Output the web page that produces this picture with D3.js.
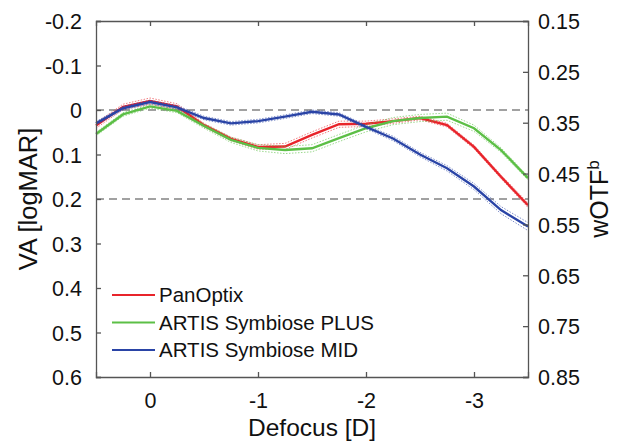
<!DOCTYPE html>
<html>
<head>
<meta charset="utf-8">
<script src="https://cdn.jsdelivr.net/npm/d3@7"></script>
<style>
    body { margin: 0; background: #fff; }
    text { font-family: "Liberation Sans", Arial, sans-serif; fill: #111; }
</style>
</head>
<body>
<div id="chart"></div>
<script>
// defocus steps (D)
var defocus = [0.5, 0.25, 0, -0.25, -0.5, -0.75, -1, -1.25, -1.5, -1.75, -2, -2.25, -2.5, -2.75, -3, -3.25, -3.5];

// VA values (logMAR)
var panOptix = [0.035, -0.007, -0.020, -0.008, 0.034, 0.065, 0.083, 0.082, 0.056, 0.032, 0.031, 0.025, 0.018, 0.034, 0.083, 0.150, 0.214];
var artisPlus = [0.054, 0.010, -0.008, 0.002, 0.036, 0.067, 0.085, 0.090, 0.086, 0.063, 0.041, 0.025, 0.018, 0.015, 0.041, 0.090, 0.153];
var artisMid = [0.030, -0.004, -0.018, -0.006, 0.018, 0.030, 0.025, 0.015, 0.004, 0.010, 0.038, 0.064, 0.100, 0.131, 0.172, 0.225, 0.262];

// half width of the dotted bands
var panOptixCI = [0.006, 0.006, 0.007, 0.006, 0.004, 0.004, 0.005, 0.007, 0.007, 0.007, 0.006, 0.005, 0.004, 0.004, 0.004, 0.004, 0.005];
var artisPlusCI = [0.004, 0.004, 0.004, 0.004, 0.005, 0.006, 0.007, 0.008, 0.008, 0.008, 0.008, 0.008, 0.008, 0.008, 0.007, 0.005, 0.004];
var artisMidCI = [0.004, 0.004, 0.004, 0.004, 0.004, 0.004, 0.004, 0.004, 0.004, 0.004, 0.004, 0.005, 0.005, 0.006, 0.007, 0.008, 0.009];

var seriesNames = ["PanOptix", "ARTIS Symbiose PLUS", "ARTIS Symbiose MID"];
var seriesColors = ["#e8242b", "#5cbf46", "#2a44a6"];

var xTicks = [0, -1, -2, -3];
var vaTicks = [-0.2, -0.1, 0, 0.1, 0.2, 0.3, 0.4, 0.5, 0.6];
var wotfTicks = [0.15, 0.25, 0.35, 0.45, 0.55, 0.65, 0.75, 0.85];
var refLines = [0, 0.2];

var margin = {top: 21, right: 94, bottom: 69, left: 96};
var width = 622 - margin.left - margin.right,
    height = 446 - margin.top - margin.bottom;

var svg = d3.select("#chart").append("svg")
    .attr("width", 622)
    .attr("height", 446);

var g = svg.append("g")
    .attr("transform", "translate(" + margin.left + "," + margin.top + ")");

var x = d3.scaleLinear().domain([0.5, -3.5]).range([0, width]);
var y = d3.scaleLinear().domain([-0.2, 0.6]).range([0, height]);
var y2 = d3.scaleLinear().domain([0.15, 0.85]).range([0, height]);

// plain hyphen minus, like the original figure
function hyphen(str) {
    return str.replace("\u2212", "-");
}

// dashed reference lines
g.selectAll(".ref")
    .data(refLines)
    .enter().append("line")
    .attr("class", "ref")
    .attr("x1", 0)
    .attr("x2", width)
    .attr("y1", function(d) { return y(d); })
    .attr("y2", function(d) { return y(d); })
    .style("stroke", "#444")
    .style("stroke-width", 1.2)
    .style("stroke-dasharray", "8,5");

var series = [
    {name: seriesNames[0], color: seriesColors[0], values: panOptix, ci: panOptixCI},
    {name: seriesNames[1], color: seriesColors[1], values: artisPlus, ci: artisPlusCI},
    {name: seriesNames[2], color: seriesColors[2], values: artisMid, ci: artisMidCI}
];

var line = d3.line()
    .x(function(d) { return x(d[0]); })
    .y(function(d) { return y(d[1]); });

series.forEach(function(s) {
    var mid = defocus.map(function(d, i) { return [d, s.values[i]]; });
    var lo = defocus.map(function(d, i) { return [d, s.values[i] - s.ci[i]]; });
    var hi = defocus.map(function(d, i) { return [d, s.values[i] + s.ci[i]]; });

    [lo, hi].forEach(function(band) {
        g.append("path")
            .attr("d", line(band))
            .style("fill", "none")
            .style("stroke", s.color)
            .style("stroke-width", 1)
            .style("stroke-dasharray", "1.5,1.5")
            .style("opacity", 0.6);
    });

    g.append("path")
        .attr("d", line(mid))
        .style("fill", "none")
        .style("stroke", s.color)
        .style("stroke-width", 2.4);
});

// axes
var tickLen = 5;
var xAxis = g.append("g")
    .attr("transform", "translate(0," + height + ")")
    .call(d3.axisBottom(x).tickValues(xTicks).tickSize(-tickLen).tickPadding(16)
        .tickFormat(function(d) { return hyphen(d3.format("d")(d)); }));
var xTop = g.append("g")
    .call(d3.axisTop(x).tickValues(xTicks).tickSize(-tickLen).tickFormat(""));
var yAxis = g.append("g")
    .call(d3.axisLeft(y).tickValues(vaTicks).tickSize(-tickLen).tickPadding(14)
        .tickFormat(function(d) { return d === 0 ? "0" : hyphen(d3.format(".1f")(d)); }));
var yAxis2 = g.append("g")
    .attr("transform", "translate(" + width + ",0)")
    .call(d3.axisRight(y2).tickValues(wotfTicks).tickSize(-tickLen).tickPadding(10)
        .tickFormat(d3.format(".2f")));

[xAxis, xTop, yAxis, yAxis2].forEach(function(a) {
    a.select(".domain").style("stroke", "#555").style("stroke-width", 1.3);
    a.selectAll(".tick line").style("stroke", "#555").style("stroke-width", 1.3);
    a.selectAll(".tick text")
        .style("font-family", '"Liberation Sans", Arial, sans-serif')
        .style("font-size", "21.5px")
        .style("fill", "#111");
});
xAxis.selectAll(".tick text").attr("dy", "0.71em");
yAxis.selectAll(".tick text").attr("dy", "0.36em");
yAxis2.selectAll(".tick text").attr("dy", "0.36em");

// axis titles
svg.append("text")
    .attr("x", margin.left + width / 2)
    .attr("y", 436)
    .attr("text-anchor", "middle")
    .style("font-size", "24.5px")
    .text("Defocus [D]");

svg.append("text")
    .attr("transform", "translate(37," + (margin.top + height / 2) + ") rotate(-90)")
    .attr("text-anchor", "middle")
    .style("font-size", "25.5px")
    .text("VA [logMAR]");

var rt = svg.append("text")
    .attr("transform", "translate(608," + (margin.top + height / 2) + ") rotate(-90)")
    .attr("text-anchor", "middle")
    .style("font-size", "25px");
rt.append("tspan").text("wOTF");
rt.append("tspan").attr("dy", "-0.55em").style("font-size", "17px").text("b");

// legend
var legend = g.selectAll(".legend")
    .data(series)
    .enter().append("g")
    .attr("class", "legend")
    .attr("transform", function(d, i) { return "translate(16," + (274 + i * 27.5) + ")"; });

legend.append("line")
    .attr("x1", 0)
    .attr("x2", 43)
    .style("stroke", function(d) { return d.color; })
    .style("stroke-width", 2);

legend.append("text")
    .attr("x", 47)
    .attr("dy", "0.36em")
    .style("font-size", "20.5px")
    .text(function(d) { return d.name; });
</script>
</body>
</html>
